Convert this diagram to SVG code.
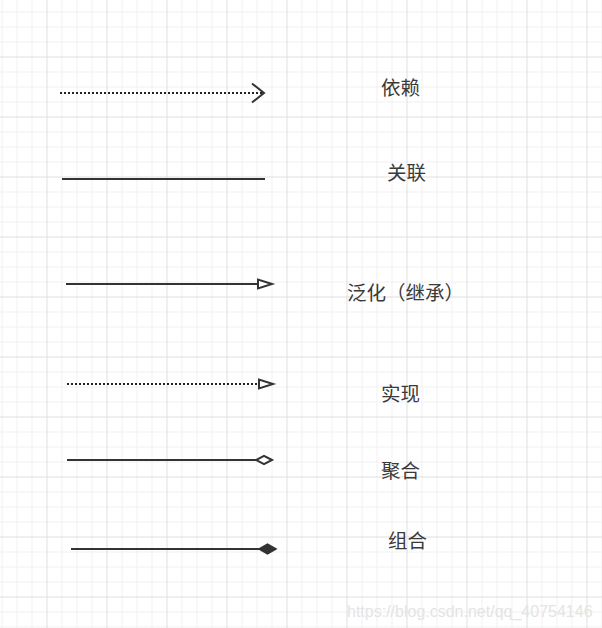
<svg xmlns="http://www.w3.org/2000/svg" width="602" height="628" viewBox="0 0 602 628">
  <defs>
    <pattern id="grid" width="60" height="60" patternUnits="userSpaceOnUse" x="46.5" y="56.5">
      <path d="M15.5,0 V60 M30.5,0 V60 M45.5,0 V60 M0,15.5 H60 M0,30.5 H60 M0,45.5 H60" stroke="#f0f0f0" stroke-width="1" fill="none"/>
      <path d="M0.5,0 V60 M0,0.5 H60" stroke="#dfdfdf" stroke-width="1" fill="none"/>
    </pattern>
    <marker id="open-arrow" markerUnits="userSpaceOnUse" markerWidth="30" markerHeight="30" viewBox="-20 -15 30 30" refX="0" refY="0" orient="auto" overflow="visible">
      <path d="M-12,-9.5 L0,0 L-12,9.5" fill="none" stroke="#333333" stroke-width="2" stroke-dasharray="none"/>
    </marker>
    <marker id="hollow-triangle" markerUnits="userSpaceOnUse" markerWidth="30" markerHeight="30" viewBox="-20 -15 30 30" refX="0" refY="0" orient="auto" overflow="visible">
      <path d="M0,0 L-14,-4.5 L-14,4.5 Z" fill="#ffffff" stroke="#333333" stroke-width="2" stroke-dasharray="none"/>
    </marker>
    <marker id="hollow-diamond" markerUnits="userSpaceOnUse" markerWidth="30" markerHeight="30" viewBox="-20 -15 30 30" refX="0" refY="0" orient="auto" overflow="visible">
      <path d="M0,0 L-8,-4.2 L-16,0 L-8,4.2 Z" fill="#ffffff" stroke="#333333" stroke-width="2" stroke-dasharray="none"/>
    </marker>
    <marker id="filled-diamond" markerUnits="userSpaceOnUse" markerWidth="30" markerHeight="30" viewBox="-20 -15 30 30" refX="0" refY="0" orient="auto" overflow="visible">
      <path d="M0,0 L-8.5,-4.8 L-17,0 L-8.5,4.8 Z" fill="#333333" stroke="#333333" stroke-width="1.5" stroke-dasharray="none"/>
    </marker>
  </defs>
  <style>
    .edge { fill: none; stroke: #333333; stroke-width: 2; }
    .dotted { stroke: #222222; stroke-dasharray: 2 2; }
    .label { font-family: "Microsoft YaHei", "Noto Sans CJK SC", sans-serif; font-size: 19.5px; fill: #3a3a3a; }
    .watermark { font-family: "Liberation Sans", Arial, sans-serif; font-size: 16px; fill: #e4e4e4; }
  </style>
  <rect x="0" y="0" width="602" height="628" fill="#ffffff"/>
  <rect x="0" y="0" width="602" height="628" fill="url(#grid)"/>

  <g id="connectors">
    <path id="dependency-edge" class="edge dotted" d="M60,93 H264" marker-end="url(#open-arrow)"/>
    <path id="association-edge" class="edge" d="M62,179 H265"/>
    <path id="generalization-edge" class="edge" d="M66,284 H272" marker-end="url(#hollow-triangle)"/>
    <path id="realization-edge" class="edge dotted" d="M67,384 H273" marker-end="url(#hollow-triangle)"/>
    <path id="aggregation-edge" class="edge" d="M67,460 H272" marker-end="url(#hollow-diamond)"/>
    <path id="composition-edge" class="edge" d="M71,549 H276" marker-end="url(#filled-diamond)"/>
  </g>

  <g id="label-dependency"><text class="label" x="381" y="94.5">依赖</text></g>
  <g id="label-association"><text class="label" x="387" y="180">关联</text></g>
  <g id="label-generalization"><text class="label" x="347" y="300">泛化（继承）</text></g>
  <g id="label-realization"><text class="label" x="381" y="401">实现</text></g>
  <g id="label-aggregation"><text class="label" x="381" y="478">聚合</text></g>
  <g id="label-composition"><text class="label" x="388" y="548">组合</text></g>

  <text class="watermark" x="347" y="617">https://blog.csdn.net/qq_40754146</text>
</svg>
